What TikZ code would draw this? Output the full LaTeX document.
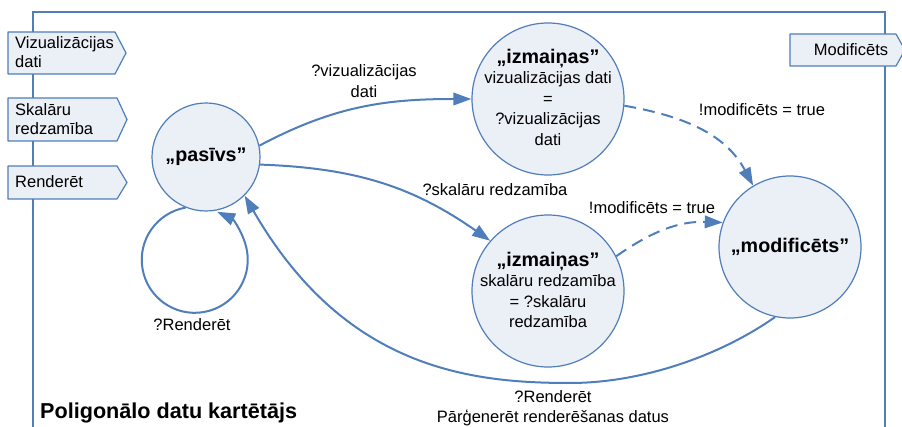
\documentclass[tikz,border=0pt]{standalone}
\usepackage{fontspec}
\setmainfont{Liberation Sans}
\usetikzlibrary{arrows.meta}
\definecolor{lineblue}{RGB}{79,126,187}
\definecolor{statefill}{RGB}{235,239,246}

\begin{document}
\begin{tikzpicture}[x=1pt,y=1pt,
  txt/.style={font=\fontsize{16.5}{20.5}\selectfont, inner sep=0pt, align=center},
  porttxt/.style={font=\fontsize{16.5}{19}\selectfont, inner sep=0pt, align=left},
  boldtxt/.style={font=\fontsize{19.7}{22}\selectfont\bfseries, inner sep=0pt},
  state/.style={circle, draw=lineblue, fill=statefill, line width=1.2pt, inner sep=0pt},
  port/.style={draw=lineblue, fill=statefill, line width=1.2pt, line join=round},
  edge/.style={draw=lineblue, line width=2pt, -{Triangle[length=18pt,width=12.5pt]}},
  dashededge/.style={edge, dash pattern=on 12pt off 7pt},
]
\useasboundingbox (0,0) rectangle (902,-427);
\clip (0,0) rectangle (902,-427);

% component frame
\draw[lineblue, line width=1.5pt] (33,-440) -- (33,-12) -- (885,-12) -- (885,-440);

% input ports
\draw[port] (8,-32) -- (115,-32) -- (126,-53) -- (115,-74) -- (8,-74) -- cycle;
\node[porttxt, anchor=west] (inVis) at (15,-52.5) {Vizualizācijas\\dati};
\draw[port] (8,-98) -- (117,-98) -- (127,-119.5) -- (117,-141) -- (8,-141) -- cycle;
\node[porttxt, anchor=west] (inVisib) at (15,-119) {Skalāru\\redzamība};
\draw[port] (8,-166) -- (117,-166) -- (127,-182.5) -- (117,-199) -- (8,-199) -- cycle;
\node[porttxt, anchor=west] (inRender) at (15,-181.5) {Renderēt};

% output port
\draw[port] (790,-34) -- (896,-34) -- (905,-50) -- (896,-66) -- (790,-66) -- cycle;
\node[txt] (outMod) at (851,-50) {Modificēts};

% states
\node[state, minimum size=108pt] (pas) at (206,-157) {};
\node[boldtxt] (pasT) at (206,-157) {„pasīvs”};

\node[state, minimum size=152pt] (izm1) at (548,-99) {};
\node[txt] (izm1T) at (548,-97) {{\fontsize{19.7}{20.5}\selectfont\bfseries „izmaiņas”}\\vizualizācijas dati\\=\\?vizualizācijas\\dati};

\node[state, minimum size=152pt] (izm2) at (548,-291) {};
\node[txt] (izm2T) at (548,-290) {{\fontsize{19.7}{20.5}\selectfont\bfseries „izmaiņas”}\\skalāru redzamība\\= ?skalāru\\redzamība};

\node[state, minimum size=142pt] (modif) at (790,-247) {};
\node[boldtxt] (modifT) at (790,-247) {„modificēts”};

% transitions
\coordinate (bend) at (570,-383);
\draw[edge] (pas.12) to[out=28,in=180] (izm1.180);
\draw[edge] (pas.-8) to[out=-2,in=145] (izm2.139);
\draw[dashededge] (izm1.-5) to[out=-10,in=118] (modif.121);
\draw[dashededge] (izm2.27) to[out=35,in=178] (modif.160);
\draw[edge] (modif.258) .. controls +(-145:70) and +(70,0) .. (bend)
  .. controls +(-100,0) and +(-60:200) .. (pas.-45);
\draw[edge] (pas.-112) arc[start angle=100, end angle=425, radius=53pt];

% transition labels
\node[txt] (l1) at (364,-81) {?vizualizācijas\\dati};
\node[txt] (l2) at (495,-190) {?skalāru redzamība};
\node[txt] (l3) at (762,-110) {!modificēts = true};
\node[txt] (l4) at (652,-208) {!modificēts = true};
\node[txt] (l5) at (192,-325) {?Renderēt};
\node[txt] (l6) at (553,-408) {?Renderēt\\Pārģenerēt renderēšanas datus};

% component title
\node[font=\fontsize{21.6}{26}\selectfont\bfseries, inner sep=0pt, anchor=west] (title) at (40,-413) {Poligonālo datu kartētājs};
\end{tikzpicture}
\end{document}
